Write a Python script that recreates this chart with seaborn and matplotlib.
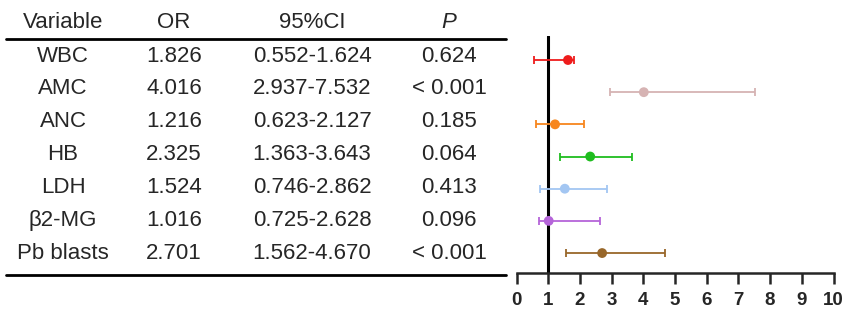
import numpy as np
import pandas as pd
import matplotlib
matplotlib.use('Agg')
import matplotlib.pyplot as plt
import seaborn as sns

# Table contents
variables = ['WBC', 'AMC', 'ANC', 'HB', 'LDH', 'β2-MG', 'Pb blasts']
or_text = ['1.826', '4.016', '1.216', '2.325', '1.524', '1.016', '2.701']
ci_text = ['0.552-1.624', '2.937-7.532', '0.623-2.127', '1.363-3.643',
           '0.746-2.862', '0.725-2.628', '1.562-4.670']
p_text = ['0.624', '< 0.001', '0.185', '0.064', '0.413', '0.096', '< 0.001']

# Values as drawn in the forest plot
or_plot = [1.624, 4.016, 1.216, 2.325, 1.524, 1.016, 2.701]
ci_lo = [0.552, 2.937, 0.623, 1.363, 0.746, 0.725, 1.562]
ci_hi = [1.826, 7.532, 2.127, 3.643, 2.862, 2.628, 4.670]
colors = ['#ee1c1c', '#d6b3b3', '#f7861e', '#1fbd1f', '#a3c6f2', '#b565d9', '#98672a']
x_ticks = list(range(0, 11))

df = pd.DataFrame({'variable': variables, 'or': or_plot, 'lo': ci_lo, 'hi': ci_hi})
df['row'] = np.arange(len(df))

sns.set_style('ticks')
plt.rcParams['font.family'] = ['Liberation Sans', 'DejaVu Sans']

W, H = 851, 316
fig = plt.figure(figsize=(W / 100, H / 100), dpi=100)


def fx(px):
    return px / W


def fy(py):
    return 1 - py / H


# ---- table on the left ----
fs = 16
col_x = [63, 174, 312, 449]
fig.text(fx(col_x[0]), fy(22), 'Variable', ha='center', va='center', fontsize=fs)
fig.text(fx(col_x[1]), fy(22), 'OR', ha='center', va='center', fontsize=fs)
fig.text(fx(col_x[2]), fy(22), '95%CI', ha='center', va='center', fontsize=fs)
fig.text(fx(col_x[3]), fy(22), 'P', ha='center', va='center', fontsize=fs, style='italic')

row_y0, row_dy = 56, 32.9
for i in range(len(variables)):
    y = fy(row_y0 + i * row_dy)
    for cx, txt in zip(col_x, [variables[i], or_text[i], ci_text[i], p_text[i]]):
        fig.text(fx(cx), y, txt, ha='center', va='center', fontsize=fs)

for ly in (38.5, 274.5):
    fig.add_artist(plt.Line2D([fx(6), fx(506)], [fy(ly), fy(ly)], color='black', lw=2.0))

# ---- forest plot on the right ----
ax = fig.add_axes([fx(516.5), fy(273), fx(833.5) - fx(516.5), (273 - 36) / H])

for i, r in df.iterrows():
    ax.errorbar(r['or'], r['row'], xerr=[[r['or'] - r['lo']], [r['hi'] - r['or']]],
                fmt='none', ecolor=colors[i], elinewidth=1.3, capsize=3.2, capthick=1.3)
sns.scatterplot(data=df, x='or', y='row', hue='variable', palette=colors,
                s=50, edgecolor='none', legend=False, ax=ax, zorder=3)

ax.axvline(1, color='black', lw=2.2, zorder=1)
ax.set_xlim(0, 10)
ax.set_ylim(6.62, -0.746)
ax.set_xticks(x_ticks)
ax.set_xticklabels([str(t) for t in x_ticks], fontsize=13.5, fontweight='bold')
ax.set_yticks([])
ax.set_xlabel('')
ax.set_ylabel('')
ax.tick_params(axis='x', direction='out', length=8, width=1.8, pad=5.5)
sns.despine(ax=ax, left=True, top=True, right=True)
ax.spines['bottom'].set_linewidth(1.8)

fig.savefig('out.png', dpi=100)
